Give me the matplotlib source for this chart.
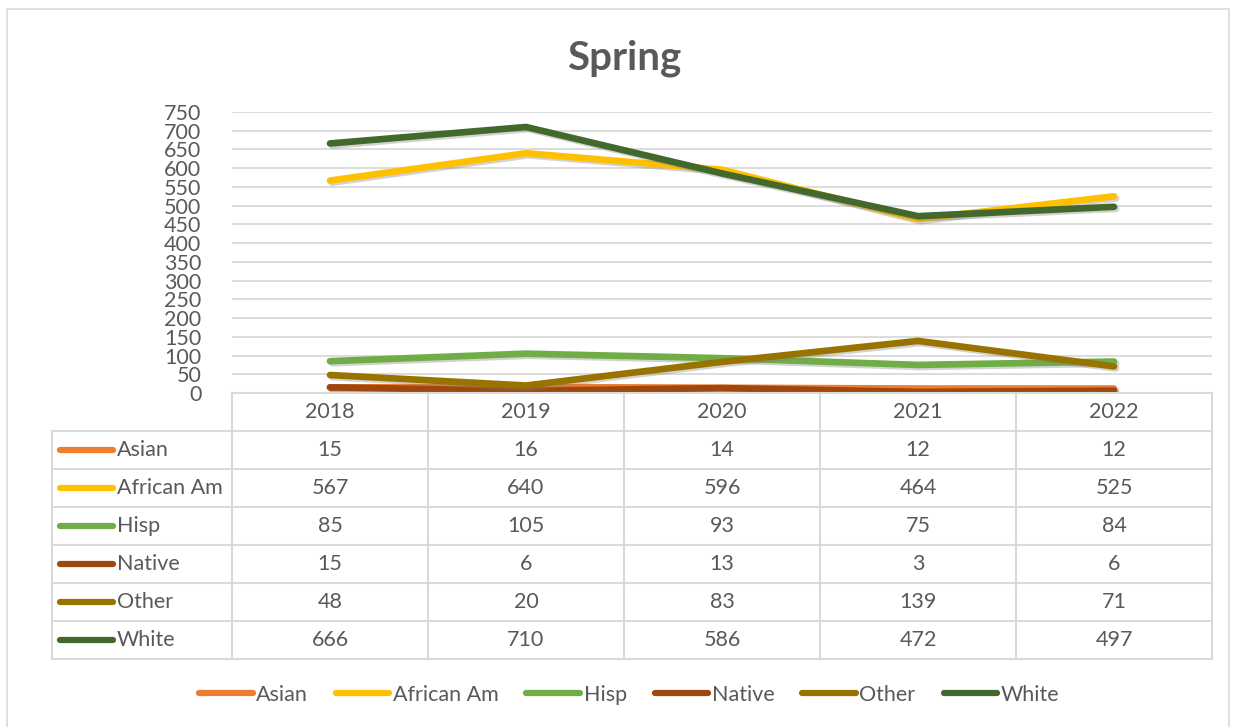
import matplotlib.pyplot as plt
import matplotlib.patheffects as pe
from matplotlib.patches import Rectangle

years = ["2018", "2019", "2020", "2021", "2022"]
groups = ["Asian", "African Am", "Hisp", "Native", "Other", "White"]
asian = [15, 16, 14, 12, 12]
african_am = [567, 640, 596, 464, 525]
hisp = [85, 105, 93, 75, 84]
native = [15, 6, 13, 3, 6]
other = [48, 20, 83, 139, 71]
white = [666, 710, 586, 472, 497]
colors = ["#ED7D31", "#FFC000", "#70AD47", "#9E480E", "#997300", "#43682B"]

series = [asian, african_am, hisp, native, other, white]

plt.rcParams['font.family'] = ['Lato', 'DejaVu Sans']
txt = "#595959"
grid = "#d9d9d9"
fs = 15.5

W, H = 1236, 727
fig = plt.figure(figsize=(W / 100, H / 100), dpi=100)

def px(x0, y0, x1, y1):
    # pixel box (top-left origin) -> figure fraction
    return [x0 / W, 1 - y1 / H, (x1 - x0) / W, (y1 - y0) / H]

# outer chart border
fig.patches.append(Rectangle((7 / W, -0.01), (1229 - 7) / W, 1 - 9 / H + 0.01,
                             transform=fig.transFigure, fill=False,
                             edgecolor=grid, lw=1.2))

ax = fig.add_axes(px(232, 112, 1212, 393))
x = range(len(years))
shadow = [pe.SimpleLineShadow(offset=(1.5, -1.5), shadow_color="gray", alpha=0.35), pe.Normal()]
for vals, c in zip(series, colors):
    ax.plot(x, vals, color=c, lw=4.8, solid_capstyle="round",
            solid_joinstyle="round", path_effects=shadow, zorder=3)
ax.set_xlim(-0.5, 4.5)
ax.set_ylim(0, 750)
ax.set_yticks(range(0, 751, 50))
ax.set_xticks([])
ax.grid(axis="y", color=grid, lw=1.3)
ax.set_axisbelow(True)
for s in ax.spines.values():
    s.set_visible(False)
ax.tick_params(axis="y", length=0, pad=22, labelsize=fs, labelcolor=txt)

fig.text(624 / W, 1 - 58 / H, "Spring", ha="center", va="center",
         fontsize=29, fontweight="bold", color=txt)

# data table below the plot
tab = fig.add_axes(px(52, 393, 1212, 659))
unit = 196  # pixels per category
left = -0.5 - 180 / unit
tab.set_xlim(left, 4.5)
tab.set_ylim(7, 0)
tab.axis("off")
lc = dict(color=grid, lw=1.5, clip_on=False)
tab.plot([-0.5, 4.5], [0, 0], **lc)
for r in range(1, 8):
    tab.plot([left, 4.5], [r, r], **lc)
tab.plot([left, left], [1, 7], **lc)
for i in range(6):
    tab.plot([i - 0.5, i - 0.5], [0, 7], **lc)
for i, y in enumerate(years):
    tab.text(i, 0.5, y, ha="center", va="center", fontsize=fs, color=txt)
for r, (g, vals, c) in enumerate(zip(groups, series, colors), start=1):
    tab.plot([left + 8 / unit, left + 61 / unit], [r + 0.5, r + 0.5],
             color=c, lw=4.5, solid_capstyle="round", clip_on=False)
    tab.text(left + 65 / unit, r + 0.5, g, ha="left", va="center", fontsize=fs, color=txt)
    for i, v in enumerate(vals):
        tab.text(i, r + 0.5, str(v), ha="center", va="center", fontsize=fs, color=txt)

# bottom legend
handles = [plt.Line2D([], [], color=c, lw=4.5, solid_capstyle="round") for c in colors]
fig.legend(handles, groups, loc="center", bbox_to_anchor=(629 / W, 1 - 695 / H),
           ncol=6, frameon=False, fontsize=fs, labelcolor=txt,
           handlelength=2.5, handletextpad=0.15, columnspacing=1.3)

fig.savefig("out.png", dpi=100)
